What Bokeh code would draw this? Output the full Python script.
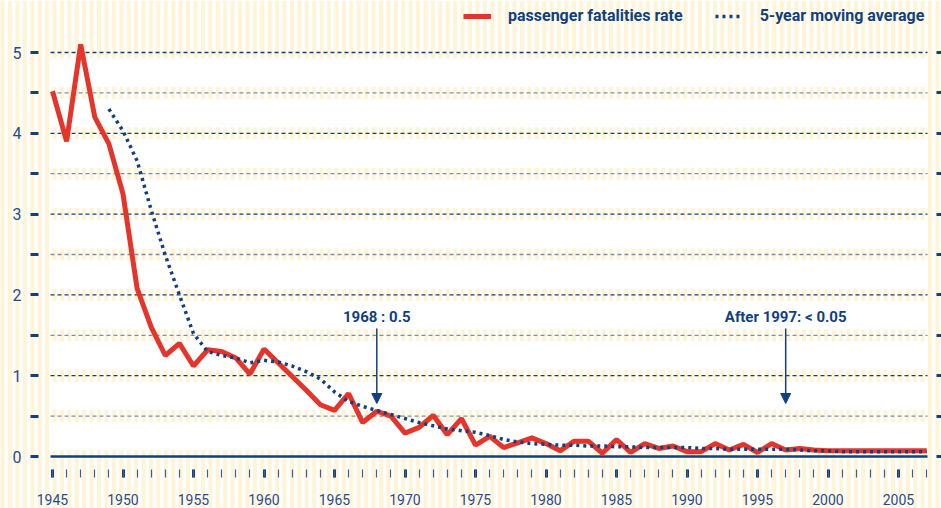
import numpy as np
from bokeh.plotting import figure
from bokeh.models import (Range1d, LinearAxis, FixedTicker, Legend, LegendItem,
                          Arrow, NormalHead)
from bokeh.core.properties import value
from bokeh.embed import file_html
from bokeh.resources import INLINE

# ---------------- data ----------------
years = list(range(1945, 2008))
fatality_rate = [4.52, 3.90, 5.10, 4.20, 3.87, 3.25, 2.08, 1.60, 1.25, 1.40,
                 1.12, 1.32, 1.30, 1.22, 1.02, 1.33, 1.16, 0.99, 0.82, 0.64,
                 0.57, 0.78, 0.42, 0.56, 0.50, 0.29, 0.36, 0.51, 0.27, 0.47,
                 0.14, 0.25, 0.11, 0.17, 0.23, 0.16, 0.07, 0.19, 0.19, 0.04,
                 0.21, 0.05, 0.16, 0.10, 0.13, 0.06, 0.06, 0.16, 0.08, 0.15,
                 0.05, 0.16, 0.08, 0.10, 0.08, 0.07, 0.07, 0.07, 0.07, 0.07,
                 0.07, 0.07, 0.07]
ma_years = list(range(1949, 2008))
moving_avg = [4.30, 4.03, 3.66, 3.05, 2.49, 2.00, 1.52, 1.30, 1.25, 1.22,
              1.16, 1.19, 1.17, 1.12, 1.05, 0.96, 0.80, 0.68, 0.62, 0.57,
              0.52, 0.47, 0.42, 0.38, 0.34, 0.32, 0.30, 0.26, 0.21, 0.18,
              0.16, 0.15, 0.14, 0.14, 0.13, 0.13, 0.12, 0.12, 0.11, 0.11,
              0.11, 0.11, 0.10, 0.10, 0.09, 0.09, 0.09, 0.09, 0.09, 0.08,
              0.07, 0.07, 0.06, 0.06, 0.06, 0.06, 0.06, 0.06, 0.06]
x_ticks = [1945, 1950, 1955, 1960, 1965, 1970, 1975, 1980, 1985, 1990,
           1995, 2000, 2005]
y_ticks = [0, 0.5, 1, 1.5, 2, 2.5, 3, 3.5, 4, 4.5, 5]
y_tick_labels = ["0", "", "1", "", "2", "", "3", "", "4", "", "5"]
legend_labels = ["passenger fatalities rate", "5-year moving average"]
note_years = [1968, 1997]
note_texts = ["1968 : 0.5", "After 1997: < 0.05"]

# ---------------- styling / geometry ----------------
NAVY = "#123f7d"
NAVY_LIGHT = "#7b90b0"
RED = "#e5352b"
CREAM = "#fff4d6"
TICK_TXT = "#1f4d8c"

W, H = 941, 508
PXY = 14.1      # px per year
PXV = 80.8      # px per unit
X0 = 1945 - 52 / PXY
X1 = X0 + W / PXY
Y1 = 456 / PXV
Y0 = -(H - 456) / PXV

def xd(px):
    return X0 + px / PXY

def yd(py):
    return (456 - py) / PXV

p = figure(width=W, height=H, output_backend="svg", toolbar_location=None,
           x_range=Range1d(X0, X1), y_range=Range1d(Y0, Y1),
           x_axis_type=None, y_axis_type=None, min_border=0,
           background_fill_color="white", border_fill_color="white")
p.outline_line_color = None
p.xgrid.visible = False
p.ygrid.visible = False

# striped background
centers = np.arange(9.5 - 7.42, W + 6, 7.42)
p.quad(left=[xd(c - 2) for c in centers], right=[xd(c + 2) for c in centers],
       bottom=Y0, top=Y1, fill_color=CREAM, line_color=None)

# white plot area between the striped gridline bands
band = 6 / PXV
pl, pr = xd(50), xd(927)
bots = [g + band for g in y_ticks[:-1]]
tops = [g + 0.5 - band for g in y_ticks[:-1]]
p.quad(left=pl, right=pr, bottom=bots, top=tops, fill_color="white", line_color=None)

# dashed gridlines
for g in y_ticks[1:]:
    col = NAVY if float(g).is_integer() else NAVY_LIGHT
    p.segment(x0=pl, x1=pr, y0=g, y1=g, line_color=col, line_width=1.3,
              line_dash="4 3")

# series
r_red = p.line(years, fatality_rate, line_color=RED, line_width=5)
r_ma = p.line(ma_years, moving_avg, line_color=NAVY, line_width=3.5,
              line_dash="3 4")

# zero line
p.segment(x0=pl, x1=pr, y0=0, y1=0, line_color=NAVY, line_width=2.5)

# axes
yaxis = LinearAxis(fixed_location=xd(38), ticker=FixedTicker(ticks=y_ticks),
                   major_label_overrides={t: l for t, l in zip(y_ticks, y_tick_labels)})
yaxis.axis_line_color = None
yaxis.major_tick_in = 0
yaxis.major_tick_out = 8
yaxis.major_tick_line_width = 3
yaxis.major_tick_line_color = NAVY
yaxis.minor_tick_line_color = None
yaxis.major_label_standoff = 9
yaxis.major_label_text_font = "Roboto"
yaxis.major_label_text_font_size = "16px"
yaxis.major_label_text_color = TICK_TXT
p.add_layout(yaxis, "left")

raxis = LinearAxis(fixed_location=xd(936), ticker=FixedTicker(ticks=y_ticks),
                   major_label_overrides={t: "" for t in y_ticks})
raxis.axis_line_color = None
raxis.major_tick_in = 0
raxis.major_tick_out = 6
raxis.major_tick_line_width = 3
raxis.major_tick_line_color = NAVY
raxis.minor_tick_line_color = None
p.add_layout(raxis, "right")

xaxis = LinearAxis(fixed_location=yd(469),
                   ticker=FixedTicker(ticks=x_ticks, minor_ticks=years))
xaxis.axis_line_color = None
xaxis.major_tick_in = 0
xaxis.major_tick_out = 8
xaxis.major_tick_line_width = 3
xaxis.major_tick_line_color = NAVY
xaxis.minor_tick_in = 0
xaxis.minor_tick_out = 8
xaxis.minor_tick_line_width = 1.2
xaxis.minor_tick_line_color = "#3a5f96"
xaxis.major_label_standoff = 16
xaxis.major_label_text_font = "Roboto"
xaxis.major_label_text_font_size = "14px"
xaxis.major_label_text_color = TICK_TXT
p.add_layout(xaxis, "below")

# annotations
ly = yd(316)
p.text(x=note_years, y=[ly] * len(note_years), text=note_texts,
       text_align="center", text_baseline="middle",
       text_font=value("Roboto"), text_font_style="bold",
       text_font_size="15px", text_color=NAVY)
for yr in note_years:
    p.add_layout(Arrow(end=NormalHead(size=10, fill_color=NAVY, line_color=NAVY),
                       x_start=yr, y_start=yd(328), x_end=yr, y_end=yd(403),
                       line_color=NAVY, line_width=1.5))

# legend
legend = Legend(items=[LegendItem(label=legend_labels[0], renderers=[r_red]),
                       LegendItem(label=legend_labels[1], renderers=[r_ma])],
                location=(463, 483), orientation="horizontal",
                glyph_width=28, glyph_height=16, label_height=16,
                label_standoff=17, spacing=32, padding=0, margin=0,
                background_fill_alpha=0, border_line_color=None,
                label_text_font="Roboto", label_text_font_style="bold",
                label_text_font_size="16px", label_text_color=NAVY)
p.add_layout(legend)

open("out.html", "w").write(file_html(p, INLINE))
